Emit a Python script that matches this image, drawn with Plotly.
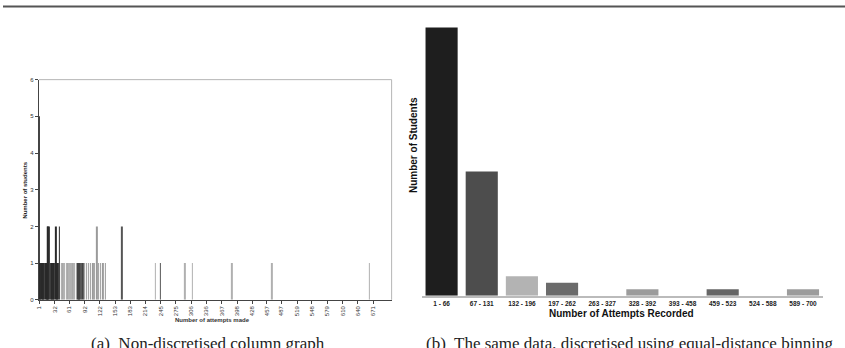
import plotly.graph_objects as go

# ---- Data: (a) non-discretised column graph ----
attempts = [1, 2, 3, 6, 8, 9, 11, 14, 16, 17, 18, 19, 21, 23, 25, 26, 27, 29, 30,
            34, 36, 38, 41, 45, 48, 51, 55, 58, 61, 63, 65,
            68, 71, 75, 78, 80, 82, 85, 88, 91, 95, 99, 103, 108, 111, 116, 119, 123, 128,
            133, 167, 234, 244, 293, 308, 387, 468, 663]
students = [5, 1, 1, 1, 1, 1, 1, 1, 1, 2, 2, 2, 2, 1, 1, 1, 1, 1, 1,
            2, 1, 1, 2, 1, 1, 1, 1, 1, 1, 1, 1,
            1, 1, 1, 1, 1, 1, 1, 1, 1, 1, 1, 1, 1, 1, 2, 1, 1, 1,
            1, 2, 1, 1, 1, 1, 1, 1, 1]
a_tick_labels = [1, 32, 61, 92, 122, 153, 183, 214, 245, 275, 306, 336, 367,
                 398, 428, 457, 487, 519, 548, 579, 610, 640, 671]

# ---- Data: (b) equal-distance bins ----
bins = ["1 - 66", "67 - 131", "132 - 196", "197 - 262", "263 - 327",
        "328 - 392", "393 - 458", "459 - 523", "524 - 588", "589 - 700"]
bin_students = [41, 19, 3, 2, 0, 1, 0, 1, 0, 1]

# ---- Styles ----
def shade(a):
    if a <= 41:
        return "#2a2a2a"
    if a <= 75:
        return "#a8a8a8"
    if a <= 88:
        return "#444444"
    if a <= 133:
        return "#9a9a9a"
    if a in (167, 244):
        return "#555555"
    return "#b0b0b0"

a_colors = [shade(a) for a in attempts]
b_colors = ["#1e1e1e", "#4d4d4d", "#b3b3b3", "#6b6b6b", "#888888",
            "#9c9c9c", "#888888", "#666666", "#888888", "#9c9c9c"]

W, H = 845, 348
def px(x):
    return x / W
def py(y):
    return (H - y) / H

fig = go.Figure()
fig.add_trace(go.Bar(x=attempts, y=students, width=1.0,
                     marker=dict(color=a_colors, line=dict(width=0)),
                     xaxis="x", yaxis="y", showlegend=False))
fig.add_trace(go.Bar(x=bins, y=bin_students,
                     marker=dict(color=b_colors, line=dict(width=0)),
                     xaxis="x2", yaxis="y2", showlegend=False))

tickfont_a = dict(family="Arial, Liberation Sans", size=6, color="#333")
sans = "Arial, Liberation Sans"
serif = "Liberation Serif, DejaVu Serif, serif"
fig.update_layout(
    width=W, height=H,
    margin=dict(l=0, r=0, t=0, b=0),
    paper_bgcolor="white", plot_bgcolor="white",
    bargap=0.2,
    xaxis=dict(domain=[px(36), px(390)], range=[0, 708],
               tickmode="array", tickvals=a_tick_labels,
               ticktext=[str(v) for v in a_tick_labels],
               tickangle=-90, tickfont=tickfont_a,
               ticks="outside", ticklen=3, tickcolor="#444",
               showline=True, linecolor="#444", linewidth=1,
               showgrid=False, zeroline=False, fixedrange=True),
    yaxis=dict(domain=[py(302), py(78)], range=[0, 6],
               tickvals=[0, 1, 2, 3, 4, 5, 6], tickfont=tickfont_a,
               ticks="outside", ticklen=3, tickcolor="#444",
               showline=True, linecolor="#444", linewidth=1,
               showgrid=False, zeroline=False, fixedrange=True),
    xaxis2=dict(domain=[px(420), px(823)], anchor="y2",
                tickfont=dict(family=sans, size=6.5, color="#222", weight="bold"),
                ticks="", showline=True, linecolor="#bbbbbb", linewidth=2,
                showgrid=False, zeroline=False, fixedrange=True),
    yaxis2=dict(domain=[py(298), py(20)], anchor="x2", range=[0, 41.75],
                showticklabels=False, ticks="", showline=False,
                showgrid=False, zeroline=False, fixedrange=True),
    shapes=[
        dict(type="line", xref="paper", yref="paper", x0=0, x1=1,
             y0=py(3.5), y1=py(3.5), line=dict(color="#555", width=2)),
        dict(type="line", xref="paper", yref="paper", x0=px(36), x1=px(390),
             y0=py(78), y1=py(78), line=dict(color="#b5b5b5", width=1)),
        dict(type="line", xref="paper", yref="paper", x0=px(390), x1=px(390),
             y0=py(78), y1=py(302), line=dict(color="#b5b5b5", width=1)),
    ],
    annotations=[
        dict(text="<b>Number of students</b>", xref="paper", yref="paper",
             x=px(22), y=py(190), xanchor="center", yanchor="middle",
             textangle=-90, showarrow=False,
             font=dict(family=sans, size=6, color="#222")),
        dict(text="<b>Number of attempts made</b>", xref="paper", yref="paper",
             x=px(210), y=py(322.5), xanchor="center", yanchor="middle",
             showarrow=False, font=dict(family=sans, size=6, color="#333")),
        dict(text="<b>Number of Students</b>", xref="paper", yref="paper",
             x=px(412), y=py(145), xanchor="center", yanchor="middle",
             textangle=-90, showarrow=False,
             font=dict(family=sans, size=10, color="#111")),
        dict(text="<b>Number of Attempts Recorded</b>", xref="paper", yref="paper",
             x=px(621), y=py(316), xanchor="center", yanchor="middle",
             showarrow=False, font=dict(family=sans, size=10, color="#111")),
        dict(text="(a)  Non-discretised column graph", xref="paper", yref="paper",
             x=px(206), y=py(335), xanchor="center", yanchor="top", showarrow=False,
             font=dict(family=serif, size=17, color="#222")),
        dict(text="(b)  The same data, discretised using equal-distance binning",
             xref="paper", yref="paper",
             x=px(629), y=py(335), xanchor="center", yanchor="top", showarrow=False,
             font=dict(family=serif, size=17, color="#222")),
    ],
)

fig.write_html("out.html")
